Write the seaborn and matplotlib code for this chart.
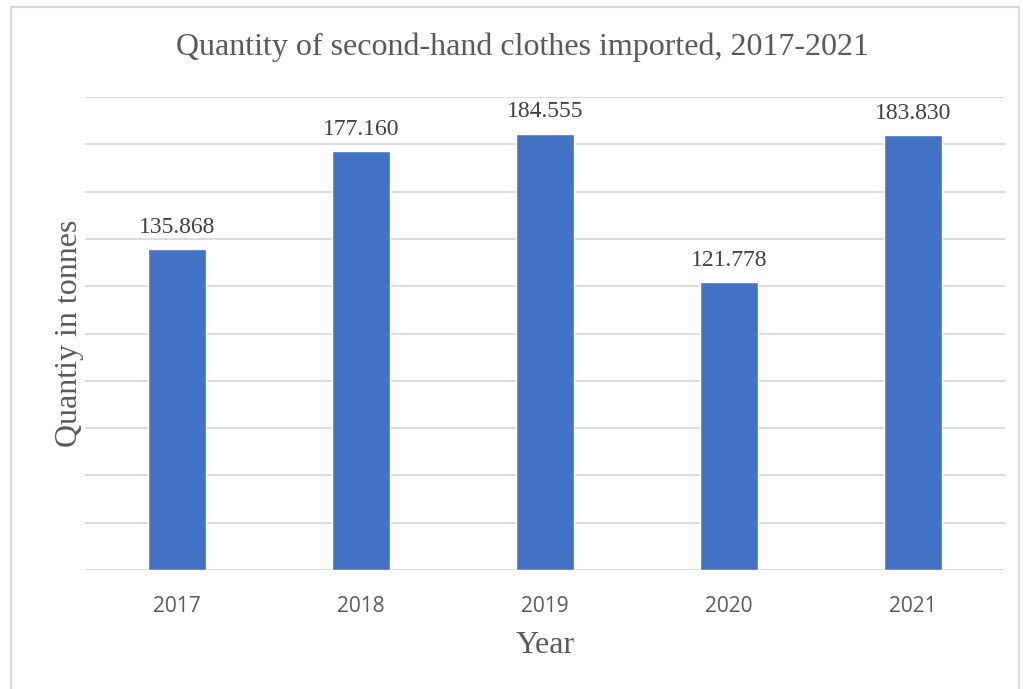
import matplotlib
matplotlib.use("Agg")
import matplotlib.pyplot as plt
import seaborn as sns
import pandas as pd
from matplotlib.patches import Rectangle

years = ["2017", "2018", "2019", "2020", "2021"]
quantities = [135.868, 177.160, 184.555, 121.778, 183.830]
value_labels = ["135.868", "177.160", "184.555", "121.778", "183.830"]

df = pd.DataFrame({"Year": years, "Quantity": quantities})

sns.set_theme(style="white")
plt.rcParams["font.family"] = ["Liberation Serif", "DejaVu Serif"]

fig = plt.figure(figsize=(10.23, 6.89), dpi=100)
ax = fig.add_axes([85/1023, 1-570/689, (1005-85)/1023, (570-97)/689])

sns.barplot(data=df, x="Year", y="Quantity", order=years, color="#4472C4",
            saturation=1, width=0.316, ax=ax, zorder=3)

ax.set_ylim(0, 200)
ax.set_yticks(range(0, 201, 20))
ax.yaxis.grid(True, color="#d9d9d9", linewidth=1.3, zorder=0)
ax.set_axisbelow(True)
ax.set_yticklabels([])
ax.tick_params(axis="y", length=0)
ax.tick_params(axis="x", length=0, pad=19)
for s in ["top", "right", "left", "bottom"]:
    ax.spines[s].set_visible(False)
ax.set_xlim(-0.5, 4.5)

for lbl in ax.get_xticklabels():
    lbl.set_fontfamily(["Open Sans", "DejaVu Sans"])
    lbl.set_fontsize(15)
    lbl.set_color("#595959")

for i, (v, t) in enumerate(zip(quantities, value_labels)):
    ax.annotate(t, (i, v), xytext=(0, 8), textcoords="offset points",
                ha="center", va="bottom", fontsize=17, color="#404040")

ax.set_xlabel("Year", fontsize=23, color="#595959", labelpad=10)
ax.set_ylabel("Quantiy in tonnes", fontsize=23, color="#595959", labelpad=-3)

fig.text(522/1023, 1-47/689, "Quantity of second-hand clothes imported, 2017-2021",
         ha="center", va="center", fontsize=23, color="#595959")

fig.patches.append(Rectangle((11/1023, -0.01), (1019-11)/1023, 1-7/689+0.01,
                             transform=fig.transFigure, fill=False,
                             edgecolor="#d9d9d9", linewidth=1.5))

fig.savefig("out.png", dpi=100)
